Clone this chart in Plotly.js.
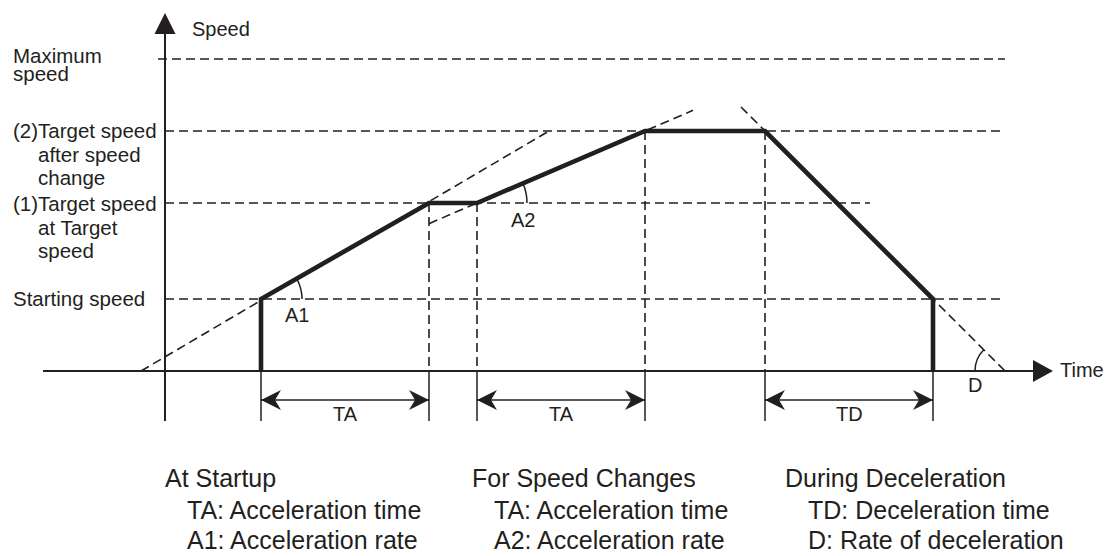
<!DOCTYPE html>
<html><head><meta charset="utf-8">
<script src="https://cdn.plot.ly/plotly-3.0.1.min.js"></script>
<style>html,body{margin:0;padding:0;background:#fff}#chart{width:1109px;height:556px}</style>
</head><body><div id="chart"></div>
<script>
// ---------------- DATA (schematic units) ----------------
const startingSpeed = 3;
const targetSpeed1 = 7;
const targetSpeed2 = 10;
const maximumSpeed = 13;

// thick speed profile
const profileTime  = [4, 4, 11, 13, 20, 25, 32, 32];
const profileSpeed = [0, 3, 7, 7, 10, 10, 3, 0];

// dashed extensions of the acceleration / deceleration slopes
const a1ExtTime = [-1, 16];   const a1ExtSpeed = [0, 10];
const a2ExtTime = [11, 22];   const a2ExtSpeed = [6.14, 10.86];
const dExtTime  = [24, 35];   const dExtSpeed  = [11, 0];

// dimension intervals below the time axis
const dimStart  = [4, 13, 25];
const dimEnd    = [11, 20, 32];
const dimLabels = ['TA', 'TA', 'TD'];

// left-side speed labels
const levelLabels = [
  ['Maximum', 'speed'],
  ['(2)Target speed', 'after speed', 'change'],
  ['(1)Target speed', 'at Target', 'speed'],
  ['Starting speed']
];

// legend text blocks
const legendHeads = ['At Startup', 'For Speed Changes', 'During Deceleration'];
const legendLine1 = ['TA: Acceleration time', 'TA: Acceleration time', 'TD: Deceleration time'];
const legendLine2 = ['A1: Acceleration rate', 'A2: Acceleration rate', 'D: Rate of deceleration'];

// ---------------- LAYOUT / STYLE ----------------
const INK = '#231f20';
const FONT = 'Liberation Sans, Arial, Helvetica, sans-serif';
const PX = 1 / 24;              // data units per pixel (equal on both axes)
const X0 = 165, Y0 = 371;       // pixel position of the origin
const xRange = [-X0 * PX, (1109 - X0) * PX];
const yRange = [(Y0 - 556) * PX, Y0 * PX];
const px2x = p => (p - X0) * PX;
const px2y = p => (Y0 - p) * PX;

const DASH = '9px,5px';
const DW = 1.6;
const traces = [];
function seg(xs, ys, width, dash) {
  traces.push({type: 'scatter', mode: 'lines', x: xs, y: ys, hoverinfo: 'skip',
    line: {color: INK, width: width, dash: dash || 'solid'}});
}

// horizontal dashed speed levels
const levels = [maximumSpeed, targetSpeed2, targetSpeed1, startingSpeed];
const levelStart = [px2x(158), 0, 0, 0];
const levelEnd = [px2x(1005), px2x(1005), px2x(870), px2x(1005)];
levels.forEach((v, i) => seg([levelStart[i], levelEnd[i]], [v, v], DW, DASH));

// dashed verticals from profile corners down to the axis
[2, 3, 4, 5].forEach(i => seg([profileTime[i], profileTime[i]], [profileSpeed[i], 0], DW, DASH));

// dashed slope extensions
seg(a1ExtTime, a1ExtSpeed, DW, DASH);
seg(a2ExtTime, a2ExtSpeed, DW, DASH);
seg(dExtTime, dExtSpeed, DW, DASH);

// axes
const belowY = px2y(421);
seg([px2x(43), px2x(1034)], [0, 0], 2);
seg([0, 0], [belowY, px2y(33)], 2);

// extension lines below the axis
const extTimes = dimStart.concat(dimEnd);
extTimes.forEach(t => seg([t, t], [0, belowY], 1.5));

// dimension lines
const dimY = px2y(400);
dimStart.forEach((s, i) => seg([s, dimEnd[i]], [dimY, dimY], 1.5));

// thick profile
traces.push({type: 'scatter', mode: 'lines', x: profileTime, y: profileSpeed, hoverinfo: 'skip',
  line: {color: INK, width: 4.6}});

// ---------------- SHAPES (arrowheads, angle arcs) ----------------
const shapes = [];
function poly(pts) {
  shapes.push({type: 'path', xref: 'x', yref: 'y', fillcolor: INK, line: {width: 0},
    path: 'M' + pts.map(p => p[0] + ',' + p[1]).join(' L') + ' Z'});
}
// axis arrowheads
poly([[px2x(1053), 0], [px2x(1033), 11 * PX], [px2x(1033), -11 * PX]]);
poly([[0, px2y(13)], [-10.5 * PX, px2y(34)], [10.5 * PX, px2y(34)]]);
// dimension arrowheads (notched)
function dimHead(xt, dir) {
  const L = 20 * PX * dir, H = 10 * PX, N = 14 * PX * dir;
  poly([[xt, dimY], [xt + L, dimY + H], [xt + N, dimY], [xt + L, dimY - H]]);
}
dimStart.forEach((s, i) => { dimHead(s, 1); dimHead(dimEnd[i], -1); });

function arc(cx, cy, r, a0, a1) {
  const k = 4 / 3 * Math.tan((a1 - a0) / 4);
  const x0 = cx + r * Math.cos(a0), y0 = cy + r * Math.sin(a0);
  const x3 = cx + r * Math.cos(a1), y3 = cy + r * Math.sin(a1);
  const c1x = x0 - k * r * Math.sin(a0), c1y = y0 + k * r * Math.cos(a0);
  const c2x = x3 + k * r * Math.sin(a1), c2y = y3 - k * r * Math.cos(a1);
  shapes.push({type: 'path', xref: 'x', yref: 'y', line: {color: INK, width: 1.5},
    path: `M${x0},${y0} C${c1x},${c1y} ${c2x},${c2y} ${x3},${y3}`});
}
arc(profileTime[1], profileSpeed[1], 41 * PX, 0,
    Math.atan2(profileSpeed[2] - profileSpeed[1], profileTime[2] - profileTime[1]));
arc(profileTime[3], profileSpeed[3], 50 * PX, 0,
    Math.atan2(profileSpeed[4] - profileSpeed[3], profileTime[4] - profileTime[3]));
arc(dExtTime[1], dExtSpeed[1], 30 * PX,
    Math.atan2(dExtSpeed[0] - dExtSpeed[1], dExtTime[0] - dExtTime[1]), Math.PI);

// ---------------- TEXT ----------------
const annotations = [];
function txt(text, x, baselinePx, size, xanchor) {
  annotations.push({text: text, x: x, y: px2y(baselinePx - 0.35 * size), xref: 'x', yref: 'y',
    xanchor: xanchor || 'left', yanchor: 'middle', showarrow: false,
    font: {family: FONT, size: size, color: INK}});
}
const labelX = px2x(11), indentX = px2x(36);
const labelBaselines = [[63, 81], [138, 162, 185], [211, 235, 258], [306]];
levelLabels.forEach((lines, i) => lines.forEach((t, j) =>
  txt(t, j === 0 ? labelX : (i === 0 ? labelX : indentX), labelBaselines[i][j], 20.5)));

txt('Speed', px2x(190), 36, 20);
txt('Time', px2x(1058), 377, 20);
txt('A1', px2x(297), 322, 20, 'center');
txt('A2', px2x(523), 227, 20, 'center');
txt('D', px2x(975), 392, 20, 'center');
dimLabels.forEach((t, i) => txt(t, (dimStart[i] + dimEnd[i]) / 2, 421, 20, 'center'));

const colHead = [163, 470, 783], colIndent = [185, 492, 806];
legendHeads.forEach((t, i) => {
  txt(t, px2x(colHead[i]), 487, 25);
  txt(legendLine1[i], px2x(colIndent[i]), 519, 25);
  txt(legendLine2[i], px2x(colIndent[i]), 549, 25);
});

const layout = {
  width: 1109, height: 556, margin: {l: 0, r: 0, t: 0, b: 0},
  paper_bgcolor: '#fff', plot_bgcolor: '#fff', showlegend: false,
  xaxis: {range: xRange, visible: false, fixedrange: true},
  yaxis: {range: yRange, visible: false, fixedrange: true},
  shapes: shapes, annotations: annotations
};
Plotly.newPlot('chart', traces, layout, {staticPlot: true, displayModeBar: false});
</script></body></html>
